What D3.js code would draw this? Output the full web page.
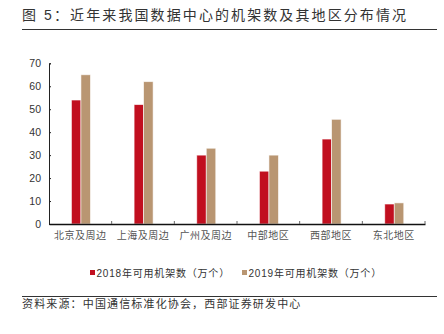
<!DOCTYPE html>
<html>
<head>
<meta charset="utf-8">
<script src="https://cdn.jsdelivr.net/npm/d3@7"></script>
<style>
  html, body { margin: 0; padding: 0; background: #fff; }
  svg { display: block; }
</style>
</head>
<body>
<svg id="chart" width="444" height="334"></svg>
<script>
// Regions and rack counts (10k units) for 2018 and 2019
const regions = ["北京及周边", "上海及周边", "广州及周边", "中部地区", "西部地区", "东北地区"];
const racks2018 = [54, 52, 30, 23, 37, 8.7];
const racks2019 = [65, 62, 33, 30, 45.6, 9.2];
const seriesNames = ["2018年可用机架数（万个）", "2019年可用机架数（万个）"];
const seriesColors = ["#C10F1F", "#B99672"];
const yTicks = [0, 10, 20, 30, 40, 50, 60, 70];

const cjk = "'Liberation Sans', 'Noto Sans CJK SC', sans-serif";
const svg = d3.select("#chart");

// Title and rules
svg.append("text")
  .attr("x", 22).attr("y", 20)
  .attr("font-family", cjk).attr("font-size", 14)
  .attr("letter-spacing", 2.1)
  .attr("fill", "#333")
  .text("图 5：近年来我国数据中心的机架数及其地区分布情况");
svg.append("line").attr("x1", 22).attr("x2", 437).attr("y1", 29.5).attr("y2", 29.5)
  .attr("stroke", "#333").attr("stroke-width", 1);
svg.append("line").attr("x1", 22).attr("x2", 437).attr("y1", 296.5).attr("y2", 296.5)
  .attr("stroke", "#333").attr("stroke-width", 1);
svg.append("text")
  .attr("x", 22).attr("y", 308)
  .attr("font-family", cjk).attr("font-size", 11)
  .attr("letter-spacing", 1.15)
  .attr("fill", "#333")
  .text("资料来源：中国通信标准化协会，西部证券研发中心");

// Plot geometry
const plotLeft = 49, plotRight = 425, plotTop = 63.3, plotBottom = 224;
const x0 = d3.scaleBand().domain(regions).range([plotLeft, plotRight]).padding(0);
const x1 = d3.scaleBand().domain([0, 1]).range([0, 19]).padding(0);
const y = d3.scaleLinear().domain([0, 70]).range([plotBottom, plotTop]);

// Bars
const g = svg.append("g");
regions.forEach((r, i) => {
  const vals = [racks2018[i], racks2019[i]];
  const cx = x0(r) + x0.bandwidth() / 2 - 8.9;
  vals.forEach((v, s) => {
    g.append("rect")
      .attr("x", cx + x1(s))
      .attr("y", y(v))
      .attr("width", x1.bandwidth())
      .attr("height", plotBottom - y(v))
      .attr("fill", seriesColors[s])
      .attr("stroke", "#fff")
      .attr("stroke-opacity", 0.7)
      .attr("stroke-width", 0.8);
  });
});

// Y axis
const yAxis = svg.append("g")
  .attr("transform", `translate(${plotLeft},0)`)
  .call(d3.axisLeft(y).tickValues(yTicks).tickSize(-2).tickPadding(8));
yAxis.select(".domain").attr("stroke", "#222").attr("stroke-width", 1);
yAxis.selectAll(".tick line").attr("stroke", "#222");
yAxis.selectAll(".tick text")
  .attr("font-family", "'Liberation Sans', Arial, sans-serif")
  .attr("font-size", 10.5).attr("fill", "#333");

// X axis with boundary ticks between categories
const xAxis = svg.append("g")
  .attr("transform", `translate(0,${plotBottom})`)
  .call(d3.axisBottom(x0).tickSize(0).tickPadding(8));
xAxis.select(".domain").attr("stroke", "#111").attr("stroke-width", 1.5);
xAxis.selectAll(".tick text")
  .attr("font-family", cjk).attr("font-size", 10)
  .attr("letter-spacing", 0.5)
  .attr("fill", "#555");
regions.forEach((r, i) => {
  if (i === 0) return;
  xAxis.append("line")
    .attr("x1", x0(r)).attr("x2", x0(r))
    .attr("y1", 0).attr("y2", -3)
    .attr("stroke", "#666");
});
xAxis.append("line")
  .attr("x1", plotRight).attr("x2", plotRight)
  .attr("y1", 0).attr("y2", -3)
  .attr("stroke", "#666");

// Legend
const legendX = [90, 242];
seriesNames.forEach((name, s) => {
  svg.append("rect")
    .attr("x", legendX[s]).attr("y", 270)
    .attr("width", 5).attr("height", 5)
    .attr("fill", seriesColors[s]);
  svg.append("text")
    .attr("x", legendX[s] + 6.5).attr("y", 277)
    .attr("font-family", cjk).attr("font-size", 10)
    .attr("letter-spacing", 0.8)
    .attr("fill", "#333")
    .text(name);
});
</script>
</body>
</html>
